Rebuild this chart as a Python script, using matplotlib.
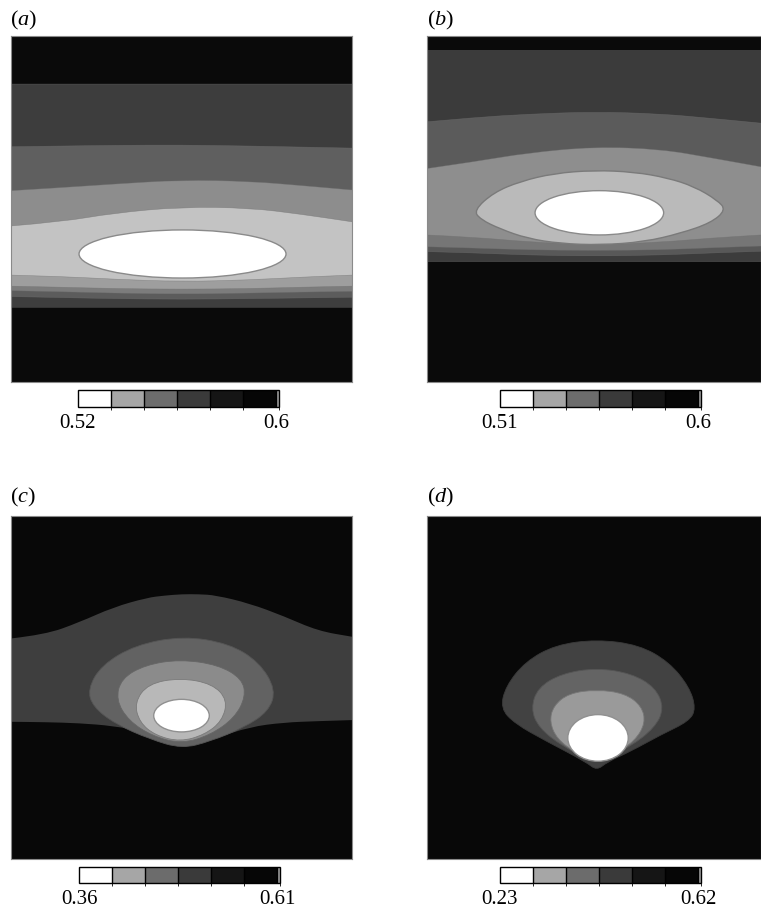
import numpy as np
import matplotlib
matplotlib.use('Agg')
import matplotlib.pyplot as plt
from matplotlib.colors import ListedColormap, BoundaryNorm
from matplotlib.cm import ScalarMappable
from matplotlib.patches import Ellipse, PathPatch
from matplotlib.path import Path

plt.rcParams['font.family'] = ['Liberation Serif', 'DejaVu Serif']
plt.rcParams['mathtext.fontset'] = 'custom'
plt.rcParams['mathtext.rm'] = 'Liberation Serif'
plt.rcParams['mathtext.it'] = 'Liberation Serif:italic'

# ---- data (normalised panel coords, y up) ----
panel_tags = ['a', 'b', 'c', 'd']
bar_lo = [0.52, 0.51, 0.36, 0.23]
bar_hi = [0.60, 0.60, 0.61, 0.62]
bar_lo_txt = ['0.52', '0.51', '0.36', '0.23']
bar_hi_txt = ['0.6', '0.6', '0.61', '0.62']
bar_shades = ['#ffffff', '#a6a6a6', '#6c6c6c', '#3a3a3a', '#151515', '#060606', '#a0a0a0']

# (a) horizontal contour levels, top to bottom
xa = [0.0, 0.15, 0.3, 0.5, 0.7, 0.85, 1.0]
a_bounds = [
    [0.861, 0.861, 0.861, 0.861, 0.861, 0.861, 0.861],
    [0.680, 0.682, 0.684, 0.685, 0.682, 0.679, 0.676],
    [0.553, 0.562, 0.572, 0.584, 0.580, 0.568, 0.555],
    [0.451, 0.463, 0.488, 0.506, 0.503, 0.485, 0.463],
    [0.309, 0.305, 0.297, 0.290, 0.295, 0.303, 0.309],
    [0.277, 0.274, 0.270, 0.268, 0.270, 0.274, 0.277],
    [0.264, 0.261, 0.257, 0.254, 0.257, 0.260, 0.262],
    [0.247, 0.244, 0.241, 0.239, 0.241, 0.243, 0.245],
    [0.216, 0.216, 0.216, 0.216, 0.216, 0.216, 0.216],
]
a_shades = ['#0a0a0a', '#3d3d3d', '#5f5f5f', '#8d8d8d', '#c3c3c3',
            '#9e9e9e', '#7c7c7c', '#5c5c5c', '#3e3e3e', '#0a0a0a']
a_core = (0.503, 0.370, 0.607, 0.139)   # x, y, width, height

# (b)
xb = [0.0, 0.15, 0.3, 0.5, 0.7, 0.85, 1.0]
b_bounds = [
    [0.958, 0.958, 0.958, 0.958, 0.958, 0.958, 0.958],
    [0.752, 0.765, 0.774, 0.781, 0.775, 0.762, 0.748],
    [0.617, 0.638, 0.662, 0.680, 0.673, 0.648, 0.622],
    [0.425, 0.418, 0.405, 0.396, 0.404, 0.416, 0.425],
    [0.391, 0.387, 0.382, 0.380, 0.382, 0.388, 0.393],
    [0.377, 0.373, 0.367, 0.364, 0.367, 0.373, 0.378],
    [0.348, 0.348, 0.348, 0.348, 0.348, 0.348, 0.348],
]
b_shades = ['#0a0a0a', '#3b3b3b', '#5b5b5b', '#8e8e8e',
            '#767676', '#585858', '#3c3c3c', '#0a0a0a']
b_lens_x = [0.140, 0.20, 0.28, 0.38, 0.50, 0.62, 0.72, 0.80, 0.87, 0.895,
            0.85, 0.76, 0.65, 0.52, 0.40, 0.30, 0.22, 0.16]
b_lens_y = [0.496, 0.548, 0.580, 0.603, 0.612, 0.607, 0.590, 0.565, 0.525, 0.497,
            0.460, 0.430, 0.405, 0.396, 0.400, 0.415, 0.442, 0.470]
b_lens_shade = '#bababa'
b_core = (0.516, 0.489, 0.385, 0.128)

# (c)
xc = [0.0, 0.1, 0.2, 0.3, 0.4, 0.45, 0.5, 0.55, 0.6, 0.7, 0.8, 0.9, 1.0]
c_upper = [0.643, 0.654, 0.690, 0.734, 0.762, 0.768, 0.772, 0.772, 0.769, 0.745, 0.708, 0.665, 0.648]
c_lower = [0.400, 0.399, 0.396, 0.388, 0.370, 0.345, 0.324, 0.336, 0.352, 0.385, 0.398, 0.402, 0.405]
c_ring1_x = [0.505, 0.640, 0.728, 0.777, 0.755, 0.683, 0.584, 0.501, 0.408, 0.305, 0.240, 0.225, 0.265, 0.365]
c_ring1_y = [0.650, 0.628, 0.574, 0.493, 0.430, 0.383, 0.343, 0.322, 0.349, 0.394, 0.444, 0.495, 0.565, 0.624]
c_ring2_x = [0.496, 0.608, 0.678, 0.688, 0.656, 0.586, 0.501, 0.415, 0.345, 0.308, 0.323, 0.394]
c_ring2_y = [0.582, 0.566, 0.525, 0.473, 0.412, 0.362, 0.336, 0.358, 0.403, 0.464, 0.526, 0.566]
c_ring3_x = [0.496, 0.590, 0.635, 0.619, 0.567, 0.496, 0.424, 0.377, 0.362, 0.402]
c_ring3_y = [0.528, 0.511, 0.464, 0.402, 0.362, 0.342, 0.360, 0.398, 0.456, 0.511]
c_shades = ['#080808', '#3e3e3e', '#626262', '#8b8b8b', '#b8b8b8']
c_core = (0.500, 0.418, 0.163, 0.095)

# (d)
d_ring1_x = [0.508, 0.635, 0.725, 0.785, 0.805, 0.785, 0.700, 0.610, 0.540, 0.508,
             0.476, 0.356, 0.264, 0.220, 0.236, 0.294, 0.384]
d_ring1_y = [0.640, 0.624, 0.574, 0.502, 0.439, 0.402, 0.362, 0.314, 0.283, 0.258,
             0.283, 0.344, 0.394, 0.439, 0.504, 0.575, 0.624]
d_ring2_x = [0.508, 0.612, 0.684, 0.710, 0.682, 0.610, 0.508, 0.406, 0.334, 0.311, 0.332, 0.404]
d_ring2_y = [0.557, 0.541, 0.500, 0.439, 0.383, 0.328, 0.278, 0.328, 0.383, 0.439, 0.500, 0.541]
d_ring3_x = [0.508, 0.592, 0.643, 0.654, 0.622, 0.560, 0.508, 0.446, 0.389, 0.367, 0.378, 0.424]
d_ring3_y = [0.494, 0.483, 0.446, 0.396, 0.344, 0.304, 0.283, 0.309, 0.350, 0.400, 0.446, 0.483]
d_shades = ['#080808', '#424242', '#646464', '#9a9a9a']
d_core = (0.512, 0.353, 0.181, 0.136)

# ---- layout (pixels in a 761 x 915 figure) ----
W, H = 761, 915
fig = plt.figure(figsize=(W / 100, H / 100), dpi=100)


def px_axes(x0, y0, x1, y1):
    return fig.add_axes([x0 / W, 1 - y1 / H, (x1 - x0) / W, (y1 - y0) / H])


panel_px = [(11, 36, 352, 382), (427, 36, 761, 382), (11, 516, 352, 859), (427, 516, 761, 859)]
bar_px = [(78, 390, 279, 407), (500, 390, 701, 407), (79, 867, 280, 883), (500, 867, 701, 883)]
tag_px = [(10, 20), (427, 20), (10, 497), (427, 497)]

axes = [px_axes(*p) for p in panel_px]
for ax in axes:
    ax.set_xlim(0, 1)
    ax.set_ylim(0, 1)
    ax.set_xticks([])
    ax.set_yticks([])
    for s in ax.spines.values():
        s.set_color('#8a8a8a')
        s.set_linewidth(0.8)


# smooth outline: quadratic bezier through the midpoints of the read points
def open_curve(xs, ys):
    p = list(zip(xs, ys))
    verts, codes = [p[0]], [Path.MOVETO]
    for i in range(1, len(p) - 1):
        mid = ((p[i][0] + p[i + 1][0]) / 2, (p[i][1] + p[i + 1][1]) / 2)
        verts += [p[i], mid]
        codes += [Path.CURVE3, Path.CURVE3]
    verts.append(p[-1])
    codes.append(Path.LINETO)
    return verts, codes


def closed_path(xs, ys):
    p = list(zip(xs, ys))
    n = len(p)
    mids = [((p[i][0] + p[(i + 1) % n][0]) / 2, (p[i][1] + p[(i + 1) % n][1]) / 2) for i in range(n)]
    verts, codes = [mids[-1]], [Path.MOVETO]
    for i in range(n):
        verts += [p[i], mids[i]]
        codes += [Path.CURVE3, Path.CURVE3]
    verts.append(mids[-1])
    codes.append(Path.CLOSEPOLY)
    return Path(verts, codes)


def fill_below(ax, xs, ys, color):
    verts, codes = open_curve(xs, ys)
    verts += [(xs[-1], 0), (xs[0], 0), (xs[0], 0)]
    codes += [Path.LINETO, Path.LINETO, Path.CLOSEPOLY]
    ax.add_patch(PathPatch(Path(verts, codes), facecolor=color, lw=0))
    v2, c2 = open_curve(xs, ys)
    ax.add_patch(PathPatch(Path(v2, c2), facecolor='none', edgecolor='#707070', lw=0.4, alpha=0.6))


def draw_bands(ax, xs, bounds, shades):
    ax.fill_between([0, 1], 0, 1, color=shades[0], lw=0)
    for yb, sh in zip(bounds, shades[1:]):
        fill_below(ax, xs, yb, sh)


def draw_shape(ax, xs, ys, fc, ec, lw=0.6):
    ax.add_patch(PathPatch(closed_path(xs, ys), facecolor=fc, edgecolor=ec, lw=lw))


def draw_core(ax, core, ec='#8a8a8a'):
    x, y, w, h = core
    ax.add_patch(Ellipse((x, y), w, h, facecolor='white', edgecolor=ec, lw=1.0))


# (a)
draw_bands(axes[0], xa, a_bounds, a_shades)
draw_core(axes[0], a_core)

# (b)
draw_bands(axes[1], xb, b_bounds, b_shades)
draw_shape(axes[1], b_lens_x, b_lens_y, b_lens_shade, '#7a7a7a', lw=1.0)
draw_core(axes[1], b_core)

# (c)
axc = axes[2]
axc.fill_between([0, 1], 0, 1, color=c_shades[0], lw=0)
vu, cu = open_curve(xc, c_upper)
vl, cl = open_curve(xc[::-1], c_lower[::-1])
cl[0] = Path.LINETO
band = Path(vu + vl + [vu[0]], cu + cl + [Path.CLOSEPOLY])
axc.add_patch(PathPatch(band, facecolor=c_shades[1], lw=0))
draw_shape(axc, c_ring1_x, c_ring1_y, c_shades[2], '#555555')
draw_shape(axc, c_ring2_x, c_ring2_y, c_shades[3], '#666666')
draw_shape(axc, c_ring3_x, c_ring3_y, c_shades[4], '#7a7a7a')
draw_core(axc, c_core, ec='#909090')

# (d)
axd = axes[3]
axd.fill_between([0, 1], 0, 1, color=d_shades[0], lw=0)
draw_shape(axd, d_ring1_x, d_ring1_y, d_shades[1], '#3a3a3a')
draw_shape(axd, d_ring2_x, d_ring2_y, d_shades[2], '#555555')
draw_shape(axd, d_ring3_x, d_ring3_y, d_shades[3], '#777777')
draw_core(axd, d_core, ec='#909090')

# colour bars
cmap = ListedColormap(bar_shades)
for i in range(4):
    lo, hi = bar_lo[i], bar_hi[i]
    edges = list(np.linspace(lo, hi, 7)) + [hi + (hi - lo) * 0.015]
    norm = BoundaryNorm(edges, len(bar_shades))
    cax = px_axes(*bar_px[i])
    cb = fig.colorbar(ScalarMappable(norm=norm, cmap=cmap), cax=cax,
                      orientation='horizontal', spacing='proportional',
                      drawedges=True, ticks=[lo, hi])
    cb.ax.set_xticklabels([bar_lo_txt[i], bar_hi_txt[i]])
    cb.ax.tick_params(length=0, pad=5, labelsize=15)
    cb.outline.set_linewidth(1.0)
    cb.dividers.set_linewidth(1.0)

for (tx, ty), tag in zip(tag_px, panel_tags):
    fig.text(tx / W, 1 - ty / H, r'$\mathrm{(}\mathit{' + tag + r'}\mathrm{)}$',
             fontsize=16, ha='left', va='center')

fig.savefig('out.png', dpi=100, facecolor='white')
